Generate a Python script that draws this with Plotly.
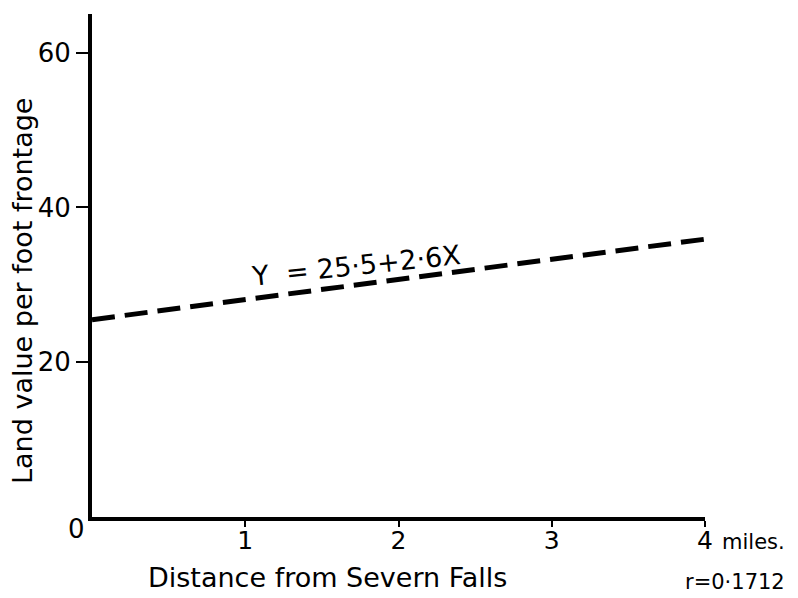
import plotly.graph_objects as go

# Regression of land value on distance
intercept = 25.5
slope = 2.6
x_miles = [0, 4]
y_value = [intercept + slope * x for x in x_miles]

y_ticks = [20, 40, 60]
x_ticks = [1, 2, 3, 4]
r_value = "0·1712"

FONT = "DejaVu Sans"
W, H = 798, 598
L, R, T, B = 92, 93, 14, 81
PW, PH = W - L - R, H - T - B


def px_x(px):
    return (px - L) / PW


def px_y(py):
    return (H - B - py) / PH


fig = go.Figure()
fig.add_trace(go.Scatter(
    x=x_miles, y=y_value, mode="lines",
    line=dict(color="black", width=5, dash="23px,10px"),
    hoverinfo="skip", showlegend=False,
))

fig.update_layout(
    width=W, height=H,
    margin=dict(l=L, r=R, t=T, b=B),
    paper_bgcolor="white", plot_bgcolor="white",
    font=dict(family=FONT, color="black", size=24),
    xaxis=dict(
        range=[0, 4], showgrid=False, zeroline=False,
        showline=True, linecolor="black", linewidth=4,
        tickmode="array", tickvals=x_ticks, ticktext=[str(v) for v in x_ticks],
        ticks="outside", ticklen=6, tickwidth=2, tickcolor="black",
        ticklabelstandoff=-8,
        tickfont=dict(size=25),
    ),
    yaxis=dict(
        range=[0, 65], showgrid=False, zeroline=False,
        showline=True, linecolor="black", linewidth=4,
        tickmode="array", tickvals=y_ticks, ticktext=[str(v) for v in y_ticks],
        ticks="outside", ticklen=12, tickwidth=2, tickcolor="black",
        tickfont=dict(size=26),
    ),
)

# origin label
fig.add_annotation(x=0, y=0, xref="x", yref="y", text="0", showarrow=False,
                   xanchor="right", yanchor="middle", xshift=-5, yshift=-12,
                   font=dict(size=26))
# units after the last tick
fig.add_annotation(x=4, y=0, xref="x", yref="y", text="miles.", showarrow=False,
                   xanchor="left", yanchor="top", xshift=15, yshift=-11,
                   font=dict(size=21))
# regression equation along the line
x_eq = 1.72
fig.add_annotation(x=x_eq, y=intercept + slope * x_eq, xref="x", yref="y",
                   text="Y  = 25·5+2·6X", showarrow=False, textangle=-6,
                   yshift=20, font=dict(size=27))
# axis titles and correlation coefficient, placed in pixel terms
for text, (px, py), angle, size in [
    ("Distance from Severn Falls", (327, 577), 0, 27),
    ("Land value per foot frontage", (22, 291), -90, 27),
    ("r=" + r_value, (735, 582), 0, 21),
]:
    fig.add_annotation(x=px_x(px), y=px_y(py), xref="paper", yref="paper",
                       text=text, showarrow=False, textangle=angle,
                       xanchor="center", yanchor="middle", font=dict(size=size))

fig.write_html("out.html")
